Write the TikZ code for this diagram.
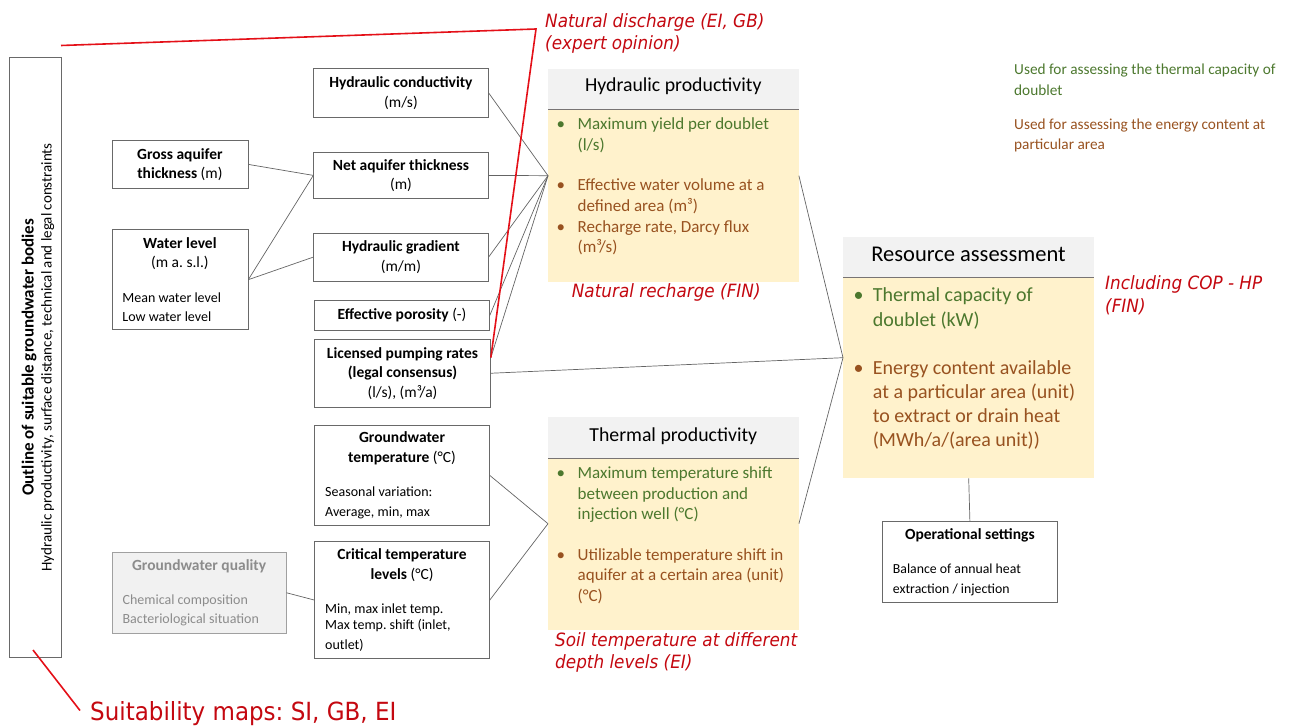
\documentclass[tikz,border=0pt]{standalone}
\usepackage{fontspec}
\setmainfont{Carlito}
\newfontfamily\notefont[FakeStretch=0.92]{DejaVu Sans}
\frenchspacing

\definecolor{frameline}{RGB}{105,105,105}
\definecolor{linkline}{RGB}{100,100,100}
\definecolor{headfill}{RGB}{242,242,242}
\definecolor{headrule}{RGB}{120,116,116}
\definecolor{bodyfill}{RGB}{255,242,204}
\definecolor{capgreen}{RGB}{76,120,46}
\definecolor{enbrown}{RGB}{152,82,32}
\definecolor{notered}{RGB}{196,8,16}
\definecolor{markred}{RGB}{228,16,24}
\definecolor{qualfill}{RGB}{241,241,241}
\definecolor{qualline}{RGB}{160,160,160}
\definecolor{qualtext}{RGB}{140,140,140}

\newcommand\fsz[2]{\fontsize{#1}{#2}\selectfont}
\newcommand\rowsblock[1]{\begin{tabular}[t]{@{}l@{}}#1\end{tabular}}
\newcommand\bulletblock[2]{\begin{tabular}[t]{@{}p{#1}@{}l@{}}•&#2\end{tabular}}
% natural word spacing inside boxes with a title block and a detail block
\newcommand\plainspaces{\spaceskip=0pt\xspaceskip=0pt\frenchspacing}

\begin{document}
\begin{tikzpicture}[x=1pt,y=-1pt,
  pbox/.style={draw=frameline,fill=white,line width=0.8pt,inner sep=0pt,anchor=north west},
  ttl/.style={align=center,font=\fsz{15.5}{19.5}},
  mixed/.style={text width=#1,align=flush left,font=\fsz{15.5}{19.5}\plainspaces},
  wire/.style={draw=linkline,line width=0.7pt},
  redmark/.style={draw=markred,line width=1.6pt},
  panel/.style={fill=bodyfill,inner sep=0pt,anchor=north west,minimum width=250.5},
  panelhead/.style={fill=headfill,inner sep=0pt,anchor=north west,minimum width=250.5,minimum height=40},
  paneltitle/.style={anchor=base,inner sep=0pt,font=\fsz{19.8}{24}},
  bitem/.style={anchor=base west,inner sep=0pt,font=\fsz{17}{21}},
  ritem/.style={anchor=base west,inner sep=0pt,font=\fsz{20}{24.5}},
  keytext/.style={anchor=base west,inner sep=0pt,font=\fsz{15.3}{20.5}},
  rednote/.style={anchor=base west,inner sep=0pt,text=notered,font=\notefont\itshape\fsz{18.3}{#1}},
  rednote/.default=22,
]
\useasboundingbox (0,0) rectangle (1291,727);

% ---- outline frame on the left
\node[pbox,minimum width=52,minimum height=600] (outline) at (9,57.3) {};
\node[anchor=base,rotate=90,inner sep=0pt,font=\fsz{17}{20}\bfseries] (outline-t) at (33.5,357.3) {Outline of suitable groundwater bodies};
\node[anchor=base,rotate=90,inner sep=0pt,font=\fsz{15}{18}] (outline-s) at (51.5,357.3) {Hydraulic productivity, surface distance, technical and legal constraints};

% ---- basic parameters
\node[pbox,ttl,minimum width=136,minimum height=48] (gross) at (111.5,140)
  {\textbf{Gross aquifer}\\\textbf{thickness} (m)};
\node[pbox,mixed=115,minimum width=136,minimum height=100] (water) at (111.5,229.3)
  {\centering\textbf{Water level}\\(m a. s.l.)\par\raggedright\fsz{14}{16.7}\vspace{17.7pt}Mean water level\\Low water level};

\node[pbox,ttl,minimum width=174.5,minimum height=48.4] (cond) at (313.3,68.3)
  {\textbf{Hydraulic conductivity}\\(m/s)};
\node[pbox,ttl,minimum width=174.5,minimum height=46.6] (net) at (313.3,151.7)
  {\textbf{Net aquifer thickness}\\(m)};
\node[pbox,ttl,minimum width=174.5,minimum height=48] (grad) at (313.3,232.7)
  {\textbf{Hydraulic gradient}\\(m/m)};
\node[pbox,ttl,minimum width=174.7,minimum height=30] (poro) at (314.3,300)
  {\textbf{Effective porosity} (-)};
\node[pbox,ttl,minimum width=175.7,minimum height=67.7] (lic) at (314.3,339)
  {\textbf{Licensed pumping rates}\\\textbf{(legal consensus)}\\(l/s), (m³/a)};

\node[pbox,mixed=153.7,minimum width=174.7,minimum height=100,font=\fsz{15.5}{20}\plainspaces] (gwt) at (314.3,425)
  {\centering\textbf{Groundwater}\\\textbf{temperature} (°C)\par\raggedright\fsz{14}{16}\vspace{18pt}Seasonal variation:\\Average, min, max};
\node[pbox,mixed=153.7,minimum width=174.7,minimum height=117.3,font=\fsz{15.5}{20}\plainspaces] (crit) at (314.3,541)
  {\centering\textbf{Critical temperature}\\\textbf{levels} (°C)\par\raggedright\fsz{14}{16}\vspace{17.3pt}Min, max inlet temp.\\Max temp. shift (inlet,\\outlet)};

\node[pbox,mixed=153,draw=qualline,fill=qualfill,text=qualtext,minimum width=174,minimum height=80.7] (qual) at (111.7,552)
  {\centering\textbf{Groundwater quality}\par\raggedright\fsz{14}{17.3}\vspace{16.7pt}Chemical composition\\Bacteriological situation};

\node[pbox,mixed=154,minimum width=175,minimum height=81] (op) at (882,521)
  {\centering\textbf{Operational settings}\par\raggedright\fsz{13.8}{15.5}\vspace{19pt}Balance of annual heat\\extraction / injection};

% ---- hydraulic productivity panel
\node[panel,minimum height=213] (hp) at (548,69) {};
\node[panelhead] (hp-head) at (548,69) {};
\draw[headrule,line width=1pt] (hp-head.south west) -- (hp-head.south east);
\node[paneltitle] (hp-title) at (673.3,91.7) {Hydraulic productivity};
\node[bitem,text=capgreen] (hp-b1) at (556.5,130) {\bulletblock{21pt}{Maximum yield per doublet\\&(l/s)}};
\node[bitem,text=enbrown] (hp-b2) at (556.5,190.7) {\bulletblock{21pt}{Effective water volume at a\\&defined area (m³)}};
\node[bitem,text=enbrown,font=\fsz{17}{20}] (hp-b3) at (556.5,232.3) {\bulletblock{21pt}{Recharge rate, Darcy flux\\&(m³/s)}};

% ---- thermal productivity panel
\node[panel,minimum height=213] (tp) at (548,417) {};
\node[panelhead,minimum height=41] (tp-head) at (548,417) {};
\draw[headrule,line width=1pt] (tp-head.south west) -- (tp-head.south east);
\node[paneltitle] (tp-title) at (673.3,441.7) {Thermal productivity};
\node[bitem,text=capgreen,font=\fsz{17}{20.8}] (tp-b1) at (556.5,478.3) {\bulletblock{21pt}{Maximum temperature shift\\&between production and\\&injection well (°C)}};
\node[bitem,text=enbrown,font=\fsz{17}{20.8}] (tp-b2) at (556.5,560) {\bulletblock{21pt}{Utilizable temperature shift in\\&aquifer at a certain area (unit)\\&(°C)}};

% ---- resource assessment panel
\node[panel,minimum width=251,minimum height=241] (ra) at (843,237) {};
\node[panelhead,minimum width=251] (ra-head) at (843,237) {};
\draw[headrule,line width=1pt] (ra-head.south west) -- (ra-head.south east);
\node[paneltitle,font=\fsz{22.5}{27}] (ra-title) at (968.5,261.7) {Resource assessment};
\node[ritem,text=capgreen] (ra-b1) at (853.5,301.7) {\bulletblock{19.2pt}{Thermal capacity of\\&doublet (kW)}};
\node[ritem,text=enbrown,font=\fsz{20}{24.2}] (ra-b2) at (853.5,374) {\bulletblock{19.2pt}{Energy content available\\&at a particular area (unit)\\&to extract or drain heat\\&(MWh/a/(area unit))}};

% ---- colour key
\node[keytext,text=capgreen] (key-cap) at (1014,75) {\rowsblock{Used for assessing the thermal capacity of\\doublet}};
\node[keytext,text=enbrown] (key-en) at (1014,129.3) {\rowsblock{Used for assessing the energy content at\\particular area}};

% ---- connectors
\draw[wire] (gross.east) -- (net.west);
\draw[wire] (water.east) -- (net.west);
\draw[wire] (water.east) -- (grad.west);
\foreach \src in {cond,net,grad,poro} \draw[wire] (\src.east) -- (hp.west);
\draw[wire] (lic.10) -- (hp.west);
\draw[wire] (lic.east) -- (ra.west);
\draw[wire] (hp.east) -- (ra.west);
\draw[wire] (tp.east) -- (ra.west);
\draw[wire] (gwt.east) -- (tp.west);
\draw[wire] (crit.east) -- (tp.west);
\draw[wire] (qual.east) -- (crit.west);
\draw[wire] (ra.south) -- (op.north);

% ---- annotations in red
\node[rednote] (n-discharge) at (545,28) {\rowsblock{Natural discharge (EI, GB)\\(expert opinion)}};
\node[rednote] (n-recharge) at (571.7,298) {Natural recharge (FIN)};
\node[rednote=23] (n-cop) at (1105,290) {\rowsblock{Including COP - HP\\(FIN)}};
\node[rednote=21.7] (n-soil) at (555,646.7) {\rowsblock{Soil temperature at different\\depth levels (EI)}};
\node[anchor=base west,inner sep=0pt,text=notered,font=\notefont\fsz{25}{30}] (n-suit) at (90,720) {Suitability maps: SI, GB, EI};

\coordinate (bracket-start) at (61,45.5);
\coordinate (bracket-bend) at (536,29);
\draw[redmark,line join=miter] (bracket-start) -- (bracket-bend) -- (lic.10);
\coordinate (suit-start) at (33,650);
\coordinate (suit-end) at (80,710.5);
\draw[redmark] (suit-start) -- (suit-end);
\end{tikzpicture}
\end{document}
